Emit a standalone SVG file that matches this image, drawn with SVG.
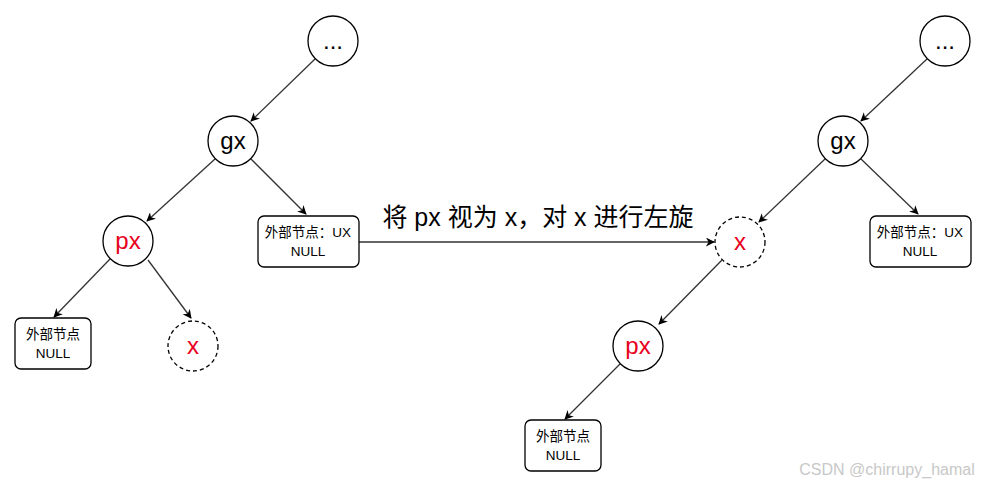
<svg xmlns="http://www.w3.org/2000/svg" width="989" height="486" viewBox="0 0 989 486">
<style>
.n{fill:#fff;stroke:#000;stroke-width:1.3}
.d{fill:#fff;stroke:#000;stroke-width:1.3;stroke-dasharray:4 3}
.t{font-family:"Liberation Sans","Noto Sans CJK SC",sans-serif;text-anchor:middle}
.b{font-size:24px;fill:#000}
.r{font-size:24px;fill:#e8001c}
.s{font-size:13.5px;fill:#000}
.c{stroke:#333;stroke-width:1.3;fill:none;marker-end:url(#a)}
</style>
<defs><marker id="a" viewBox="0 0 10 10" refX="9" refY="5" markerWidth="9" markerHeight="9" orient="auto" markerUnits="userSpaceOnUse"><path d="M0,0 L10,5 L0,10 L3,5 Z" fill="#000"/></marker></defs>
<g id="connectors">
<line class="c" x1="315" y1="59" x2="251" y2="121"/>
<line class="c" x1="215" y1="159" x2="147" y2="221"/>
<line class="c" x1="251" y1="159" x2="306" y2="214"/>
<line class="c" x1="110" y1="259" x2="54" y2="317"/>
<line class="c" x1="148" y1="260" x2="191" y2="318"/>
<line class="c" x1="359" y1="242" x2="714" y2="242"/>
<line class="c" x1="927" y1="59" x2="861" y2="121"/>
<line class="c" x1="825" y1="159" x2="759" y2="222"/>
<line class="c" x1="861" y1="159" x2="918" y2="214"/>
<line class="c" x1="722" y1="260" x2="659" y2="324"/>
<line class="c" x1="620" y1="364" x2="565" y2="419"/>
</g>
<g id="topL"><circle class="n" cx="333" cy="41" r="25"/><text class="t b" x="333" y="49">...</text></g>
<g id="gxL"><circle class="n" cx="233" cy="141" r="25"/><text class="t b" x="233" y="149">gx</text></g>
<g id="pxL"><circle class="n" cx="128" cy="241" r="25"/><text class="t r" x="128" y="249">px</text></g>
<g id="xL"><circle class="d" cx="193" cy="346" r="25"/><text class="t r" x="193" y="354">x</text></g>
<g id="extL"><rect class="n" x="15" y="318" width="76" height="51" rx="6"/><text class="t s" x="53" y="339">外部节点</text><text class="t s" x="53" y="358">NULL</text></g>
<g id="uxL"><rect class="n" x="258" y="216" width="101" height="51" rx="6"/><text class="t s" x="308" y="237">外部节点：UX</text><text class="t s" x="308" y="256">NULL</text></g>
<g id="label"><text class="t" x="538" y="226" font-size="25">将 px 视为 x，对 x 进行左旋</text></g>
<g id="topR"><circle class="n" cx="945" cy="41" r="25"/><text class="t b" x="945" y="49">...</text></g>
<g id="gxR"><circle class="n" cx="843" cy="141" r="25"/><text class="t b" x="843" y="149">gx</text></g>
<g id="xR"><circle class="d" cx="740" cy="242" r="25"/><text class="t r" x="740" y="250">x</text></g>
<g id="pxR"><circle class="n" cx="638" cy="346" r="25"/><text class="t r" x="638" y="354">px</text></g>
<g id="extR"><rect class="n" x="525" y="420" width="76" height="51" rx="6"/><text class="t s" x="563" y="441">外部节点</text><text class="t s" x="563" y="460">NULL</text></g>
<g id="uxR"><rect class="n" x="870" y="216" width="101" height="51" rx="6"/><text class="t s" x="920" y="237">外部节点：UX</text><text class="t s" x="920" y="256">NULL</text></g>
<text class="t" x="887" y="475" font-size="16" fill="#c8c8c8">CSDN @chirrupy_hamal</text>
</svg>
